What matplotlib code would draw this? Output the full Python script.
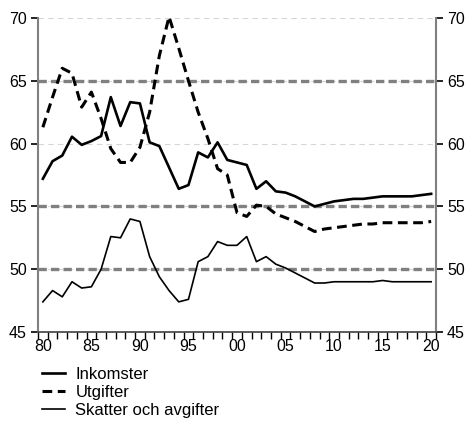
import matplotlib
matplotlib.use("Agg")
import matplotlib.pyplot as plt
import numpy as np

plt.rcParams['font.family'] = ['Liberation Sans', 'DejaVu Sans']
plt.rcParams['lines.scale_dashes'] = False

# data
years = np.arange(1980, 2021)
inkomster = [57.2, 58.6, 59.05, 60.55, 59.9, 60.2, 60.6, 63.7, 61.4, 63.3,
             63.2, 60.1, 59.8, 58.1, 56.4, 56.7, 59.3, 58.9, 60.1, 58.7,
             58.5, 58.3, 56.4, 57.0, 56.2, 56.1, 55.8, 55.4, 55.0, 55.2,
             55.4, 55.5, 55.6, 55.6, 55.7, 55.8, 55.8, 55.8, 55.8, 55.9, 56.0]
utgifter = [61.3, 63.7, 66.0, 65.6, 62.9, 64.1, 62.0, 59.6, 58.5, 58.5,
            59.7, 62.5, 67.0, 70.1, 67.6, 65.0, 62.5, 60.4, 58.0, 57.5,
            54.5, 54.2, 55.1, 55.0, 54.4, 54.1, 53.8, 53.4, 53.0, 53.2,
            53.3, 53.4, 53.5, 53.6, 53.6, 53.7, 53.7, 53.7, 53.7, 53.7, 53.8]
skatter = [47.4, 48.3, 47.8, 49.0, 48.5, 48.6, 50.0, 52.6, 52.5, 54.0,
           53.8, 51.0, 49.4, 48.3, 47.4, 47.6, 50.6, 51.0, 52.2, 51.9,
           51.9, 52.6, 50.6, 51.0, 50.4, 50.1, 49.7, 49.3, 48.9, 48.9,
           49.0, 49.0, 49.0, 49.0, 49.0, 49.1, 49.0, 49.0, 49.0, 49.0, 49.0]
ref_levels = [65, 55, 50]
label_years = [1980, 1985, 1990, 1995, 2000, 2005, 2010, 2015, 2020]
label_text = ['80', '85', '90', '95', '00', '05', '10', '15', '20']

fig = plt.figure(figsize=(4.65, 4.21), dpi=100)
ax = fig.add_axes([38 / 465, 1 - 332 / 421, 398 / 465, 314 / 421])

# faint grid + thick gray reference lines
for v in [50, 55, 60, 65, 70]:
    ax.axhline(v, color='#d6d6d6', lw=0.8, ls=(0, (4, 3)), zorder=1)
for v in ref_levels:
    ax.axhline(v, color='#808080', lw=2.4, ls=(0, (6, 3)), zorder=2)

ax.plot(years, inkomster, color='black', lw=1.9, label='Inkomster', zorder=4)
ax.plot(years, utgifter, color='black', lw=2.2, ls=(0, (7, 4)), label='Utgifter', zorder=4)
ax.plot(years, skatter, color='black', lw=1.2, label='Skatter och avgifter', zorder=3)

ax.set_xlim(1979.5, 2020.5)
ax.set_ylim(45, 70)
ax.set_yticks([45, 50, 55, 60, 65, 70])
ax.set_xticks(label_years)
ax.set_xticklabels(label_text)
ax.set_xticks(np.arange(1979.5, 2021, 1), minor=True)
ax.tick_params(axis='x', which='major', length=0, pad=5, labelsize=11.5)
ax.tick_params(axis='x', which='minor', length=5, width=1, direction='out', color='black')
ax.tick_params(axis='y', length=5, width=1.2, direction='out', color='black',
               labelsize=11.5, left=True, right=True, labelleft=True, labelright=True, pad=3)

for s in ['left', 'right']:
    ax.spines[s].set_color('#808080')
    ax.spines[s].set_linewidth(1.5)
ax.spines['bottom'].set_color('#404040')
ax.spines['bottom'].set_linewidth(1.2)
ax.spines['top'].set_visible(False)

ax.legend(loc='upper left', bbox_to_anchor=(42 / 465, 1 - 367 / 421),
          bbox_transform=fig.transFigure, frameon=False, fontsize=12,
          handlelength=1.4, handletextpad=0.6, labelspacing=0.18,
          borderpad=0, borderaxespad=0)

fig.savefig('out.png', dpi=100)
